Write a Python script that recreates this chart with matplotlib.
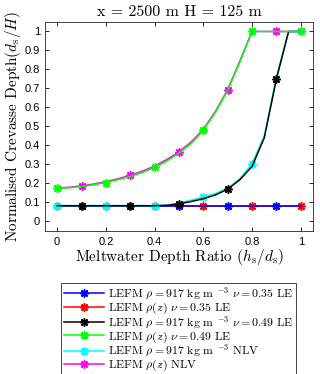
import numpy as np
import matplotlib
matplotlib.use("Agg")
import matplotlib.pyplot as plt

plt.rcParams['mathtext.fontset'] = 'cm'
plt.rcParams['font.family'] = 'Liberation Sans'

# razón de profundidad de agua de deshielo (h_s/d_s)
x = [0.0, 0.05, 0.1, 0.15, 0.2, 0.25, 0.3, 0.35, 0.4, 0.45, 0.5,
     0.55, 0.6, 0.65, 0.7, 0.75, 0.8, 0.85, 0.9, 0.95, 1.0]

# profundidad normalizada de grieta (d_s/H)
lefm_917_035 = [0.083] * 21
lefm_rho_035 = [0.083] * 21
lefm_917_049 = [0.083, 0.083, 0.083, 0.083, 0.083, 0.083, 0.083, 0.083, 0.083,
                0.085, 0.093, 0.105, 0.12, 0.14, 0.17, 0.22, 0.29, 0.44, 0.75,
                1.0, 1.0]
lefm_rho_049 = [0.175, 0.177, 0.184, 0.193, 0.205, 0.22, 0.237, 0.258, 0.285,
                0.318, 0.36, 0.41, 0.48, 0.575, 0.69, 0.84, 1.0, 1.0, 1.0,
                1.0, 1.0]
nlv_917 = [0.083, 0.083, 0.083, 0.083, 0.083, 0.083, 0.083, 0.083, 0.083,
           0.086, 0.097, 0.112, 0.13, 0.148, 0.175, 0.225, 0.305, 0.45, 0.76,
           1.0, 1.0]
nlv_rho = [0.177, 0.18, 0.188, 0.197, 0.21, 0.225, 0.243, 0.265, 0.292,
           0.326, 0.367, 0.418, 0.486, 0.58, 0.694, 0.845, 1.0, 1.0, 1.0,
           1.0, 1.0]

etiquetas = [
    r'LEFM $\rho = 917$ kg m $^{-3}$ $\nu = 0.35$ LE',
    r'LEFM $\rho(z)$ $\nu = 0.35$ LE',
    r'LEFM $\rho = 917$ kg m $^{-3}$ $\nu = 0.49$ LE',
    r'LEFM $\rho(z)$ $\nu = 0.49$ LE',
    r'LEFM $\rho = 917$ kg m $^{-3}$ NLV',
    r'LEFM $\rho(z)$ NLV',
]

xs = np.array(x)
impares = list(np.where(np.isclose(xs * 10 % 2, 1))[0])
pares = list(np.where(np.isclose(xs * 10 % 2, 0) | np.isclose(xs * 10 % 2, 2))[0])

series = [
    (lefm_917_035, (0, 0, 1), impares, 3),
    (lefm_rho_035, (1, 0, 0), pares, 2),
    (lefm_917_049, (0, 0, 0), impares, 5),
    (lefm_rho_049, (0, 1, 0), pares, 7),
    (nlv_917, (0, 1, 1), pares, 4),
    (nlv_rho, (1, 0, 1), impares, 6),
]

fig = plt.figure(figsize=(3.2, 3.74), dpi=100)
ax = fig.add_axes([0.1406, 0.3824, 0.8374, 0.5588])

lineas = []
for (y, col, marcas, z), lab in zip(series, etiquetas):
    l, = ax.plot(x, y, color=col, lw=1.1, marker=(8, 2, 0), markersize=6,
                 markeredgewidth=1.1, markevery=marcas, zorder=z, label=lab)
    lineas.append(l)

ax.set_xlim(-0.05, 1.05)
ax.set_ylim(-0.05, 1.05)
ax.set_xticks(np.arange(0, 1.01, 0.2))
ax.set_xticklabels(['0', '0.2', '0.4', '0.6', '0.8', '1'])
ax.set_yticks(np.arange(0, 1.01, 0.1))
ax.set_yticklabels(['0', '0.1', '0.2', '0.3', '0.4', '0.5', '0.6', '0.7',
                    '0.8', '0.9', '1'])
ax.tick_params(direction='in', top=True, right=True, labelsize=8,
               length=3, width=0.6)
ax.tick_params(axis='x', pad=4.5)
ax.tick_params(axis='y', pad=3.5)
for s in ax.spines.values():
    s.set_linewidth(0.6)
    s.set_color('0.15')

ax.set_title('x = 2500 m H = 125 m', fontsize=11.5, pad=4, family='cmr10')
ax.set_xlabel(r'Meltwater Depth Ratio $(h_\mathrm{s}/d_\mathrm{s})$',
              fontsize=11, labelpad=0, family='cmr10')
ax.set_ylabel(r'Normalised Crevasse Depth$(d_\mathrm{s}/H)$',
              fontsize=11, labelpad=1, family='cmr10')

leg = fig.legend(handles=lineas, loc='upper left',
                 bbox_to_anchor=(61 / 320, 1 - 283 / 374),
                 borderaxespad=0, handlelength=3.4,
                 labelspacing=-0.12, handletextpad=0.3, borderpad=0.25,
                 fancybox=False, framealpha=1,
                 prop={'family': 'cmr10', 'size': 8.5})
leg.get_frame().set_edgecolor('0.15')
leg.get_frame().set_linewidth(0.6)

fig.savefig('out.png', dpi=100)
